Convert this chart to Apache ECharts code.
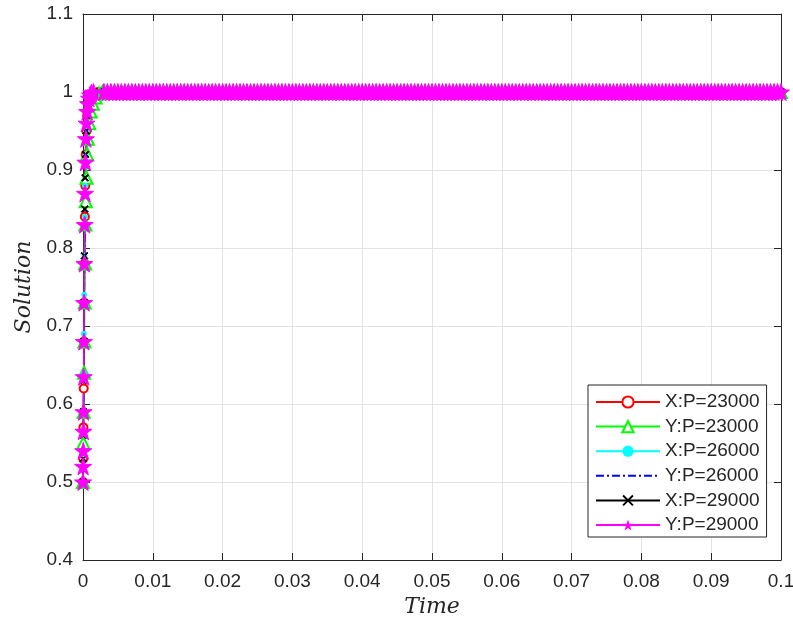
<!DOCTYPE html>
<html>
<head>
<meta charset="utf-8">
<script src="https://cdn.jsdelivr.net/npm/echarts@6/dist/echarts.min.js"></script>
<style>
html,body{margin:0;padding:0;background:#fff;overflow:hidden;}
#chart{width:793px;height:620px;}
</style>
</head>
<body>
<div id="chart"></div>
<script>
// ---------- data ----------
const seriesNames = ['X:P=23000', 'Y:P=23000', 'X:P=26000', 'Y:P=26000', 'X:P=29000', 'Y:P=29000'];
const xTickLabels = ['0', '0.01', '0.02', '0.03', '0.04', '0.05', '0.06', '0.07', '0.08', '0.09', '0.1'];
const yTickLabels = ['0.4', '0.5', '0.6', '0.7', '0.8', '0.9', '1', '1.1'];

// initial rise (time, value)
const riseT_X23 = [0, 0.00003, 0.00006, 0.0001, 0.00014, 0.00018, 0.00022, 0.00027, 0.00033, 0.0004, 0.0005, 0.0006, 0.0008, 0.001, 0.0013, 0.0017, 0.0022];
const riseY_X23 = [0.5, 0.53, 0.57, 0.62, 0.68, 0.73, 0.78, 0.84, 0.88, 0.92, 0.95, 0.97, 0.985, 0.993, 0.997, 0.999, 1];
const riseT_Y23 = [0, 0.00005, 0.0001, 0.00015, 0.0002, 0.00025, 0.0003, 0.00035, 0.0004, 0.0005, 0.0006, 0.0007, 0.0009, 0.0011, 0.0014, 0.0018, 0.0023, 0.0028];
const riseY_Y23 = [0.5, 0.55, 0.59, 0.64, 0.68, 0.73, 0.78, 0.83, 0.86, 0.89, 0.92, 0.94, 0.96, 0.975, 0.985, 0.993, 0.998, 1];
const riseT_X26 = [0, 0.00003, 0.00006, 0.0001, 0.00013, 0.00017, 0.00021, 0.00026, 0.00032, 0.0004, 0.0005, 0.0007, 0.0009, 0.0012, 0.0016, 0.002];
const riseY_X26 = [0.5, 0.54, 0.59, 0.64, 0.69, 0.74, 0.79, 0.84, 0.88, 0.92, 0.95, 0.975, 0.988, 0.995, 0.999, 1];
const riseT_Y26 = [0, 0.00004, 0.00008, 0.00012, 0.00016, 0.0002, 0.00025, 0.0003, 0.00036, 0.00044, 0.00055, 0.0007, 0.0009, 0.0012, 0.0016, 0.0021];
const riseY_Y26 = [0.5, 0.55, 0.6, 0.65, 0.7, 0.75, 0.8, 0.85, 0.89, 0.925, 0.95, 0.972, 0.986, 0.995, 0.999, 1];
const riseT_X29 = [0, 0.00002, 0.00004, 0.00007, 0.0001, 0.00013, 0.00016, 0.0002, 0.00025, 0.0003, 0.00036, 0.00044, 0.00055, 0.0007, 0.0009, 0.0012, 0.0016];
const riseY_X29 = [0.5, 0.53, 0.56, 0.59, 0.63, 0.68, 0.73, 0.79, 0.85, 0.89, 0.92, 0.95, 0.97, 0.985, 0.994, 0.998, 1];
const riseT_Y29 = [0, 0.00002, 0.00004, 0.00006, 0.00008, 0.0001, 0.00013, 0.00016, 0.0002, 0.00024, 0.00029, 0.00035, 0.00042, 0.0005, 0.0006, 0.00072, 0.00086, 0.001, 0.0012, 0.0015];
const riseY_Y29 = [0.5, 0.52, 0.54, 0.565, 0.59, 0.635, 0.68, 0.73, 0.78, 0.83, 0.87, 0.91, 0.94, 0.96, 0.975, 0.985, 0.992, 0.996, 0.999, 1];

// plateau: every solver step after the rise sits at 1
const plateauValue = 1;
const plateauT = [
  0.003,0.0035,0.004,0.0045,0.005,0.0055,0.006,0.0065,0.007,0.0075,
  0.008,0.0085,0.009,0.0095,0.01,0.0105,0.011,0.0115,0.012,0.0125,
  0.013,0.0135,0.014,0.0145,0.015,0.0155,0.016,0.0165,0.017,0.0175,
  0.018,0.0185,0.019,0.0195,0.02,0.0205,0.021,0.0215,0.022,0.0225,
  0.023,0.0235,0.024,0.0245,0.025,0.0255,0.026,0.0265,0.027,0.0275,
  0.028,0.0285,0.029,0.0295,0.03,0.0305,0.031,0.0315,0.032,0.0325,
  0.033,0.0335,0.034,0.0345,0.035,0.0355,0.036,0.0365,0.037,0.0375,
  0.038,0.0385,0.039,0.0395,0.04,0.0405,0.041,0.0415,0.042,0.0425,
  0.043,0.0435,0.044,0.0445,0.045,0.0455,0.046,0.0465,0.047,0.0475,
  0.048,0.0485,0.049,0.0495,0.05,0.0505,0.051,0.0515,0.052,0.0525,
  0.053,0.0535,0.054,0.0545,0.055,0.0555,0.056,0.0565,0.057,0.0575,
  0.058,0.0585,0.059,0.0595,0.06,0.0605,0.061,0.0615,0.062,0.0625,
  0.063,0.0635,0.064,0.0645,0.065,0.0655,0.066,0.0665,0.067,0.0675,
  0.068,0.0685,0.069,0.0695,0.07,0.0705,0.071,0.0715,0.072,0.0725,
  0.073,0.0735,0.074,0.0745,0.075,0.0755,0.076,0.0765,0.077,0.0775,
  0.078,0.0785,0.079,0.0795,0.08,0.0805,0.081,0.0815,0.082,0.0825,
  0.083,0.0835,0.084,0.0845,0.085,0.0855,0.086,0.0865,0.087,0.0875,
  0.088,0.0885,0.089,0.0895,0.09,0.0905,0.091,0.0915,0.092,0.0925,
  0.093,0.0935,0.094,0.0945,0.095,0.0955,0.096,0.0965,0.097,0.0975,
  0.098,0.0985,0.099,0.0995,0.1
];

// ---------- build ----------
function build(rt, ry) {
  const pts = rt.map((t, i) => [t, ry[i]]);
  plateauT.forEach(t => pts.push([t, plateauValue]));
  return pts;
}

const starPath = 'path://M50,0 L61.2,34.5 L97.6,34.5 L68.2,55.9 L79.4,90.5 L50,69.1 L20.6,90.5 L31.8,55.9 L2.4,34.5 L38.8,34.5 Z';
const xPath = 'path://M0,1.2 L1.2,0 L5,3.8 L8.8,0 L10,1.2 L6.2,5 L10,8.8 L8.8,10 L5,6.2 L1.2,10 L0,8.8 L3.8,5 Z';

const seriesDefs = [
  {name: seriesNames[0], data: build(riseT_X23, riseY_X23), color: '#ff0000', symbol: 'emptyCircle', size: 8, type: 'solid'},
  {name: seriesNames[1], data: build(riseT_Y23, riseY_Y23), color: '#00ff00', symbol: 'emptyTriangle', size: 12, type: 'solid'},
  {name: seriesNames[2], data: build(riseT_X26, riseY_X26), color: '#00ffff', symbol: 'circle', size: 5, type: 'solid'},
  {name: seriesNames[3], data: build(riseT_Y26, riseY_Y26), color: '#0000ff', symbol: 'none', size: 0, type: [8, 3, 2, 3]},
  {name: seriesNames[4], data: build(riseT_X29, riseY_X29), color: '#000000', symbol: xPath, size: 7, type: 'solid'},
  {name: seriesNames[5], data: build(riseT_Y29, riseY_Y29), color: '#ff00ff', symbol: starPath, size: 17, type: 'solid'}
];

const axisColor = '#262626';
const labelFont = {fontFamily: 'Liberation Sans, Arial, sans-serif', fontSize: 19, color: axisColor};
const nameFont = {fontFamily: 'DejaVu Serif, Liberation Serif, serif', fontStyle: 'italic', fontSize: 22, color: axisColor};

const legendData = seriesNames.map((n, i) => seriesDefs[i].symbol === 'none'
  ? {name: n, itemStyle: {opacity: 0, borderWidth: 0}}
  : {name: n});

const chart = echarts.init(document.getElementById('chart'), null, {renderer: 'canvas'});
chart.setOption({
  animation: false,
  backgroundColor: '#ffffff',
  grid: {left: 83, right: 12, top: 14, bottom: 60, containLabel: false, outerBoundsMode: 'none'},
  legend: {
    orient: 'vertical',
    left: 588, top: 385,
    padding: [7, 7, 2, 7],
    itemWidth: 64, itemHeight: 14, itemGap: 4.6,
    backgroundColor: '#ffffff',
    borderColor: axisColor, borderWidth: 1,
    textStyle: {fontFamily: 'Liberation Sans, Arial, sans-serif', fontSize: 19, lineHeight: 20, color: axisColor},
    data: legendData
  },
  xAxis: [{
    type: 'value', min: 0, max: 0.1, interval: 0.01,
    name: 'Time', nameLocation: 'middle', nameGap: 31,
    nameTextStyle: nameFont,
    axisLine: {show: true, lineStyle: {color: axisColor, width: 1}},
    axisTick: {show: true, inside: true, length: 7, lineStyle: {color: axisColor}},
    axisLabel: Object.assign({margin: 12, formatter: v => xTickLabels[Math.round(v / 0.01)]}, labelFont),
    splitLine: {show: true, lineStyle: {color: '#e3e3e3', width: 1}}
  }, {
    type: 'value', position: 'top', min: 0, max: 0.1, interval: 0.01,
    axisLine: {show: true, onZero: false, lineStyle: {color: axisColor, width: 1}},
    axisTick: {show: true, inside: true, length: 7, lineStyle: {color: axisColor}},
    axisLabel: {show: false}, splitLine: {show: false}
  }],
  yAxis: [{
    type: 'value', min: 0.4, max: 1.1, interval: 0.1,
    name: 'Solution', nameLocation: 'middle', nameGap: 48, nameRotate: 90,
    nameTextStyle: nameFont,
    axisLine: {show: true, onZero: false, lineStyle: {color: axisColor, width: 1}},
    axisTick: {show: true, inside: true, length: 7, lineStyle: {color: axisColor}},
    axisLabel: Object.assign({margin: 10, formatter: v => yTickLabels[Math.round((v - 0.4) / 0.1)]}, labelFont),
    splitLine: {show: true, lineStyle: {color: '#e3e3e3', width: 1}}
  }, {
    type: 'value', position: 'right', min: 0.4, max: 1.1, interval: 0.1,
    axisLine: {show: true, onZero: false, lineStyle: {color: axisColor, width: 1}},
    axisTick: {show: true, inside: true, length: 7, lineStyle: {color: axisColor}},
    axisLabel: {show: false}, splitLine: {show: false}
  }],
  series: seriesDefs.map(d => ({
    name: d.name,
    type: 'line',
    data: d.data,
    xAxisIndex: 0, yAxisIndex: 0,
    symbol: d.symbol,
    symbolSize: d.size,
    showSymbol: d.symbol !== 'none',
    showAllSymbol: true,
    clip: false,
    color: d.color,
    itemStyle: {color: d.color, borderColor: d.color},
    lineStyle: {color: d.color, width: 1.5, type: d.type},
    emphasis: {disabled: true}
  }))
});
</script>
</body>
</html>
